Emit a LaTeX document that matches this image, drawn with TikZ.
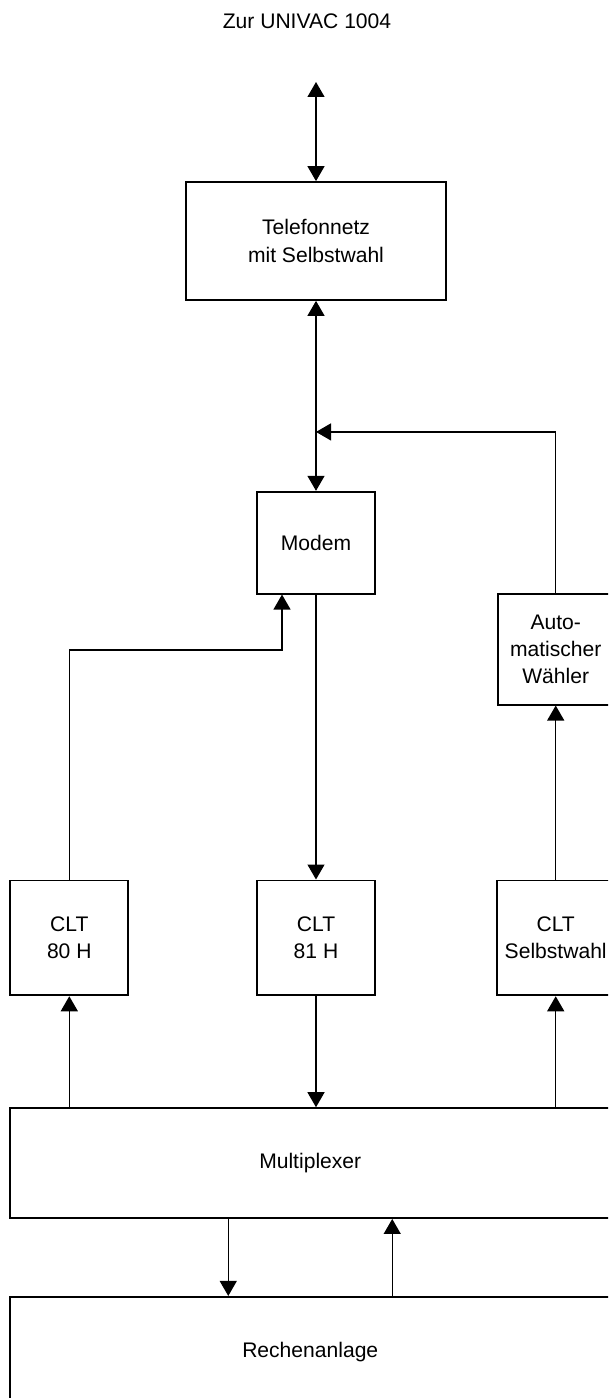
\documentclass[tikz,border=0pt]{standalone}
\usepackage{fontspec}
\setmainfont{Liberation Sans}
\usetikzlibrary{positioning,arrows.meta,calc}

\begin{document}
\begin{tikzpicture}[
    x=0.02cm, y=-0.02cm,
    block/.style = {rectangle, draw=black, line width=1pt, align=center, inner sep=0pt,
                    font=\fontsize{12}{15.5}\selectfont},
    unit/.style = {block, minimum width=2.36cm, minimum height=2.3cm},
    wide/.style = {block, minimum width=12cm, minimum height=2.2cm},
    flow/.style = {line width=0.7pt},
    >={Triangle[length=0.3cm, width=0.34cm]}
]
\useasboundingbox (0,0) rectangle (608,1398);
\clip (0,0) rectangle (608,1398);

% --- Title and telephone network ---
\node[font=\fontsize{12}{15.5}\selectfont] (title) at (307,21) {Zur UNIVAC 1004};
\coordinate (ext) at (316,82);
\node[block, minimum width=5.2cm, minimum height=2.36cm] (tel) at (316,241) {Telefonnetz\\mit Selbstwahl};

% --- Modem and dialer ---
\node[block, minimum width=2.36cm, minimum height=2.04cm, below=3.8cm of tel] (modem) {Modem};

% --- CLT units (horizontal row) ---
\node[unit, below=5.7cm of modem] (clt81) {CLT\\81 H};
\node[unit, left=2.54cm of clt81] (clt80) {CLT\\80 H};
\node[unit, right=2.4cm of clt81] (cltsw) {CLT\\Selbstwahl};
\node[block, minimum width=2.32cm, minimum height=2.22cm, above=3.48cm of cltsw] (auto) {Auto-\\matischer\\W\"ahler};

% --- Multiplexer and computer ---
\node[wide, below right=2.22cm and 0cm of clt80.south west] (mux) {Multiplexer};
\node[wide, below right=1.54cm and 0cm of mux.south west] (rech) {Rechenanlage};

% --- Connections ---
\draw[flow, <->] (ext) -- (tel);
\draw[flow, <->] (tel) -- (modem);
\coordinate (junc) at ($(tel.south)!0.69!(modem.north)$);
\draw[flow, ->] (auto.north) |- (junc);
\coordinate (lbend) at (282,650);
\draw[flow, ->] (clt80.north) |- (lbend) -- (lbend |- modem.south);
\draw[flow, ->] (modem) -- (clt81);
\draw[flow, ->] (cltsw.north) -- (auto.south) ;
\draw[flow, ->] (clt80.south |- mux.north) -- (clt80.south);
\draw[flow, ->] (clt81.south) -- (clt81.south |- mux.north);
\draw[flow, ->] (cltsw.south |- mux.north) -- (cltsw.south);
\draw[flow, ->] ([xshift=-1.64cm]mux.south) -- ([xshift=-1.64cm]mux.south |- rech.north);
\draw[flow, ->] ([xshift=1.64cm]mux.south |- rech.north) -- ([xshift=1.64cm]mux.south);

\end{tikzpicture}
\end{document}
